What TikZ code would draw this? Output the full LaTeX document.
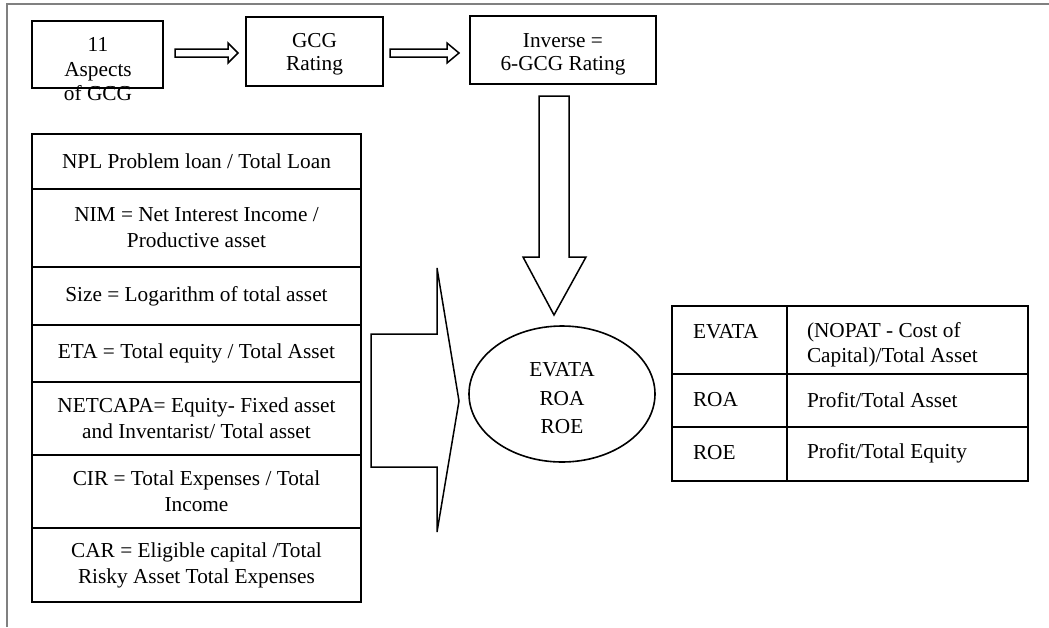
\documentclass[tikz,border=0pt]{standalone}
\usepackage{fontspec}
\setmainfont{Liberation Serif}
\usetikzlibrary{shapes.geometric}
\begin{document}
\begin{tikzpicture}[x=1pt,y=-1pt,
  every node/.style={font=\fontsize{21.3}{26}\selectfont, inner sep=0pt, outer sep=0pt},
  frame/.style={draw=black!50, line width=2.2pt},
  box/.style={draw, line width=2pt, rectangle, anchor=north west},
  txt/.style={align=center},
  rowbox/.style={draw, line width=2pt, rectangle, anchor=north west, minimum width=329pt, align=center},
  cell/.style={draw, line width=2pt, rectangle, anchor=north west},
  blockarrow/.style={draw, line width=1.5pt, line join=miter, fill=white}]
\useasboundingbox (0,0) rectangle (1049,627);
% outer frame
\draw[frame] (7,627) -- (7,4) -- (1049,4);
% top row
\node[box, minimum width=131pt, minimum height=67pt] (b1) at (32,21) {};
\node[txt, font=\fontsize{21.3}{24.5}\selectfont] (t1) at (98,69.5) {11\\Aspects\\of GCG};
\node[box, minimum width=137pt, minimum height=69pt] (b2) at (246,17) {};
\node[txt, font=\fontsize{21.3}{23}\selectfont] (t2) at (314.5,54.5) {GCG\\Rating};
\node[box, minimum width=186pt, minimum height=68pt] (b3) at (470,16) {};
\node[txt, font=\fontsize{21.3}{23}\selectfont] (t3) at (563,54.5) {Inverse =\\6-GCG Rating};
% horizontal block arrows
\draw[blockarrow] (175,49) -- (228,49) -- (228,43) -- (238,53) -- (228,63) -- (228,57) -- (175,57) -- cycle;
\draw[blockarrow] (390,49) -- (447,49) -- (447,43) -- (459,53) -- (447,63) -- (447,57) -- (390,57) -- cycle;
% down block arrow
\draw[blockarrow] (539,96) -- (569,96) -- (569,257) -- (586,257) -- (554,315) -- (523,257) -- (539,257) -- cycle;
% left column
\node[rowbox, minimum height=55pt] (r1) at (32,134) {NPL Problem loan / Total Loan};
\node[rowbox, minimum height=78pt] (r2) at (32,189) {NIM = Net Interest Income /\\Productive asset};
\node[rowbox, minimum height=58pt] (r3) at (32,267) {Size = Logarithm of total asset};
\node[rowbox, minimum height=57pt] (r4) at (32,325) {ETA = Total equity / Total Asset};
\node[rowbox, minimum height=73pt] (r5) at (32,382) {NETCAPA= Equity- Fixed asset\\and Inventarist/ Total asset};
\node[rowbox, minimum height=73pt] (r6) at (32,455) {CIR = Total Expenses / Total\\Income};
\node[rowbox, minimum height=74pt] (r7) at (32,528) {CAR = Eligible capital /Total\\Risky Asset Total Expenses};
% chevron arrow
\draw[blockarrow] (371,334) -- (437,334) -- (437,268) -- (459,401) -- (437,532) -- (437,467) -- (371,467) -- cycle;
% ellipse
\node[draw, ellipse, line width=1.6pt, minimum width=186pt, minimum height=136pt] (res) at (562,394) {};
\node[txt, font=\fontsize{21.3}{28.5}\selectfont] (rest) at (562,398.5) {EVATA\\ROA\\ROE};
% right table
\node[cell, minimum width=115pt, minimum height=68pt] (c11) at (672,306) {};
\node[cell, minimum width=241pt, minimum height=68pt] (c12) at (787,306) {};
\node[cell, minimum width=115pt, minimum height=53pt] (c21) at (672,374) {};
\node[cell, minimum width=241pt, minimum height=53pt] (c22) at (787,374) {};
\node[cell, minimum width=115pt, minimum height=54pt] (c31) at (672,427) {};
\node[cell, minimum width=241pt, minimum height=54pt] (c32) at (787,427) {};
\node[anchor=west] (e1) at (693,332) {EVATA};
\node[anchor=west, align=left, font=\fontsize{21.3}{25}\selectfont] (e2) at (807,344.5) {(NOPAT - Cost of\\Capital)/Total Asset};
\node[anchor=west] (a1) at (693,400) {ROA};
\node[anchor=west] (a2) at (807,400) {Profit/Total Asset};
\node[anchor=west] (q1) at (693,453) {ROE};
\node[anchor=west] (q2) at (807,453) {Profit/Total Equity};
\end{tikzpicture}
\end{document}
